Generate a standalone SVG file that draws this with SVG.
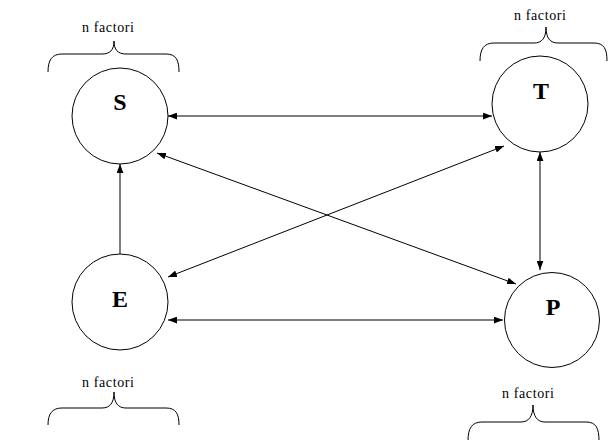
<svg xmlns="http://www.w3.org/2000/svg" width="613" height="440" viewBox="0 0 613 440">
<style>
.node circle{fill:#fff;stroke:#000;stroke-width:1}
.lbl{font-family:"Liberation Serif","Times New Roman",serif;font-weight:bold;font-size:24px;text-anchor:middle;fill:#000}
.nf{font-family:"Liberation Serif","Times New Roman",serif;font-size:14px;text-anchor:middle;fill:#000}
.brace{fill:none;stroke:#000;stroke-width:1}
.conn line{stroke:#000;stroke-width:1}
</style>
<defs>
<marker id="ah" markerUnits="userSpaceOnUse" markerWidth="9" markerHeight="7" refX="8" refY="3" orient="auto-start-reverse" viewBox="0 0 8 6">
<path d="M0,0 L8,3 L0,6 z" fill="#000"/>
</marker>
</defs>
<rect width="613" height="440" fill="#fff"/>
<g id="S" class="node">
<circle cx="120" cy="116" r="48"/>
<text class="lbl" x="120" y="110">S</text>
<path class="brace" d="M48,72 C48,60 52,54 62,54 L102,54 C110,54 114,50 114,41 C114,50 118,54 126,54 L166,54 C176,54 179,60 179,72"/>
<text class="nf" x="108" y="32" textLength="52" lengthAdjust="spacing">n factori</text>
</g>
<g id="T" class="node">
<circle cx="540" cy="104" r="48"/>
<text class="lbl" x="541" y="99">T</text>
<path class="brace" d="M480,61 C480,49 484,43 494,43 L534,43 C542,43 546,38 546,27 C546,38 550,43 558,43 L594,43 C604,43 607,49 607,61"/>
<text class="nf" x="540" y="20" textLength="52" lengthAdjust="spacing">n factori</text>
</g>
<g id="E" class="node">
<circle cx="120" cy="302" r="48"/>
<text class="lbl" x="120" y="307">E</text>
<path class="brace" d="M48,425 C48,414 52,408 62,408 L102,408 C110,408 114,403 114,392 C114,403 118,408 126,408 L166,408 C176,408 179,414 179,425"/>
<text class="nf" x="108" y="387" textLength="52" lengthAdjust="spacing">n factori</text>
</g>
<g id="P" class="node">
<circle cx="552" cy="320" r="47.5"/>
<text class="lbl" x="553" y="315">P</text>
<path class="brace" d="M468,441 C468,428 472,422 482,422 L521,422 C529,422 533,416 533,405 C533,416 537,422 545,422 L586,422 C596,422 599,428 599,441"/>
<text class="nf" x="528" y="398" textLength="52" lengthAdjust="spacing">n factori</text>
</g>
<g id="connectors" class="conn">
<line x1="168" y1="116" x2="492" y2="116" marker-start="url(#ah)" marker-end="url(#ah)"/>
<line x1="157" y1="153" x2="516" y2="284" marker-start="url(#ah)" marker-end="url(#ah)"/>
<line x1="168" y1="277" x2="504" y2="146" marker-start="url(#ah)" marker-end="url(#ah)"/>
<line x1="168" y1="320" x2="503" y2="320" marker-start="url(#ah)" marker-end="url(#ah)"/>
<line x1="120" y1="254" x2="120" y2="164" marker-end="url(#ah)"/>
<line x1="540" y1="152" x2="540" y2="270" marker-start="url(#ah)" marker-end="url(#ah)"/>
</g>
</svg>
